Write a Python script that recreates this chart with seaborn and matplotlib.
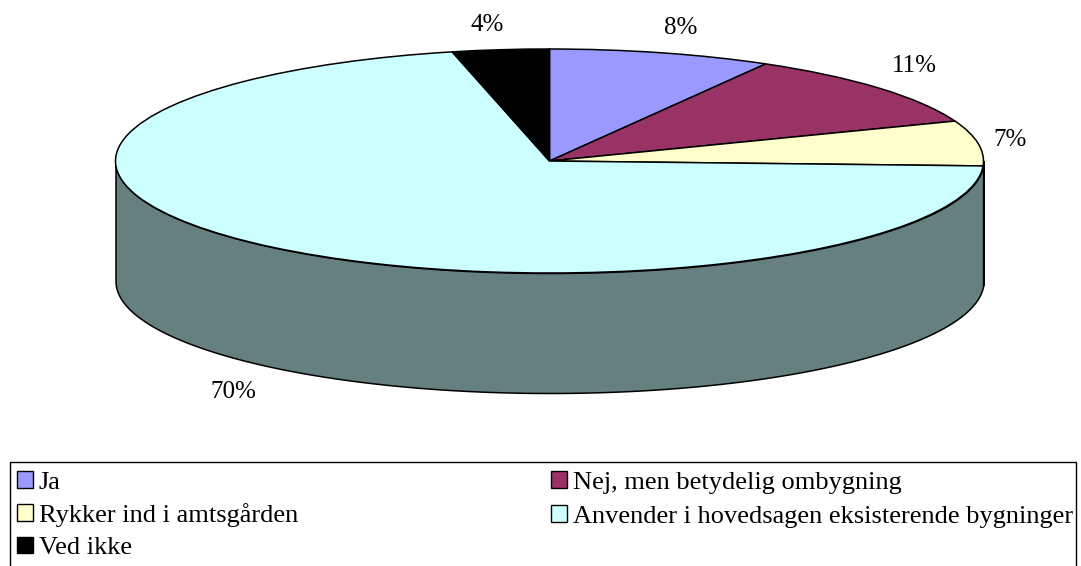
import numpy as np
import matplotlib
matplotlib.use("Agg")
import matplotlib.pyplot as plt
import seaborn as sns
from matplotlib.patches import Rectangle

categories = ["Ja", "Nej, men betydelig ombygning", "Rykker ind i amtsgården",
              "Anvender i hovedsagen eksisterende bygninger", "Ved ikke"]
shares = [8.3, 10.9, 6.5, 70.7, 3.6]
pct_labels = ["8%", "11%", "7%", "70%", "4%"]
colors = ["#9999FF", "#993366", "#FFFFCC", "#CCFFFF", "#000000"]

W, H = 1081, 566
CX, CY, RX, RY, DEPTH = 549.5, 161, 434, 112, 120

sns.set_theme(style="white")
plt.rcParams["font.family"] = ["Liberation Serif", "DejaVu Serif"]
palette = sns.color_palette(colors)

fig = plt.figure(figsize=(W / 100, H / 100), dpi=100)
ax = fig.add_axes([0, 0, 1, 1])

# pie on the unit circle, axes limits squash it to the tilted ellipse
wedges, _ = ax.pie(shares, colors=palette, startangle=90, counterclock=False,
                   wedgeprops=dict(edgecolor="black", linewidth=1.1, zorder=3))
ax.set_aspect("auto")
ax.set_xlim(-CX / RX, (W - CX) / RX)
ax.set_ylim((CY - H) / RY, CY / RY)
ax.axis("off")

# side wall, only the front half of each slice shows
edges = np.cumsum([0] + shares) / sum(shares) * 360
for i, col in enumerate(palette):
    a0, a1 = max(edges[i], 90), min(edges[i + 1], 270)
    if a1 <= a0:
        continue
    th = np.radians(np.linspace(a0, a1, 200))
    x, y = np.sin(th), np.cos(th)
    ax.fill_between(x, y, y - DEPTH / RY, facecolor=[c * 0.5 for c in col],
                    edgecolor="black", linewidth=1.1, zorder=2)

# data labels
label_px = [(681, 28), (914, 66), (1010, 140), (233, 392), (487, 25)]
for txt, (px, py) in zip(pct_labels, label_px):
    fig.text(px / W, 1 - py / H, txt, ha="center", va="center", fontsize=18, color="black")

# legend box runs off the bottom of the picture
fig.add_artist(Rectangle((9.5 / W, -0.02), 1066.5 / W, 1 - 461.5 / H + 0.02, transform=fig.transFigure,
                         facecolor="white", edgecolor="black", linewidth=1, zorder=1))
order = [0, 2, 4, 1, 3]
leg = fig.legend([Rectangle((0, 0), 1, 1, facecolor=palette[i], edgecolor="black", linewidth=1) for i in order],
                 [categories[i] for i in order], ncol=2, frameon=False, fontsize=19, labelcolor="black",
                 loc="upper left", bbox_to_anchor=(17 / W, 1 - 471 / H), borderpad=0, borderaxespad=0,
                 handlelength=0.6, handleheight=0.6, handletextpad=0.23, labelspacing=0.36,
                 columnspacing=9.6)
leg.set_zorder(5)
# the å makes the left row taller, keep the right column in step
right_col = leg._legend_handle_box.get_children()[1]
right_col.sep += 1.44

fig.savefig("out.png", dpi=100)
